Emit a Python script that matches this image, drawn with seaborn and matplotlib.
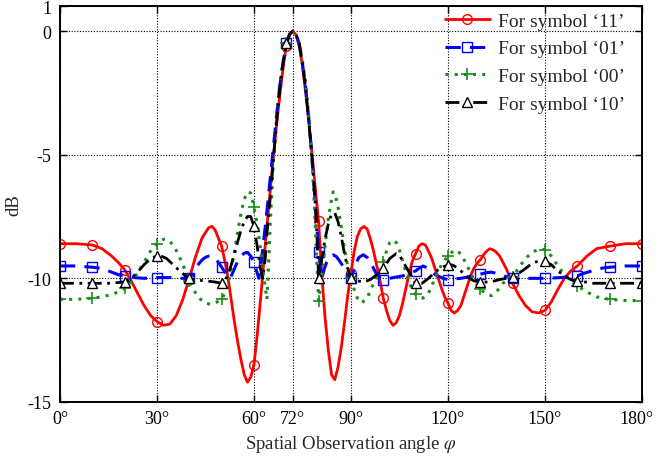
import numpy as np
import pandas as pd
import matplotlib
matplotlib.use("Agg")
import matplotlib.pyplot as plt
import matplotlib.transforms as mtransforms
import seaborn as sns

# values (angle in degrees, level in dB)
ang_11 = [0, 5, 10, 13, 16, 18, 20, 22, 24, 26, 28, 30, 32, 34, 36, 38, 40, 42, 44, 46, 47, 48, 50, 51, 52,
          53, 54, 55, 56, 57, 58, 59, 60, 61, 62, 63, 64, 65, 66, 67, 68, 69, 70, 71, 72, 73, 74, 75, 76,
          77, 78, 79, 80, 81, 82, 83, 84, 85, 86, 87, 88, 89, 90, 91, 92, 93, 94, 95, 96, 97, 98, 99, 100,
          101, 102, 103, 104, 105, 106, 107, 108, 109, 110, 111, 112, 113, 114, 115, 116, 117, 118, 119,
          120, 121, 122, 123, 124, 125, 126, 127, 128, 129, 130, 131, 132, 133, 134, 135, 136, 138, 140,
          142, 144, 146, 148, 150, 152, 154, 156, 158, 160, 163, 166, 170, 175, 180]
db_11 = [-8.6, -8.6, -8.65, -8.8, -9.1, -9.35, -9.65, -10.1, -10.6, -11.1, -11.5, -11.75, -11.9, -11.85,
         -11.5, -10.85, -10.0, -9.1, -8.35, -7.95, -7.9, -8.05, -8.7, -9.3, -10.0, -10.9, -11.8, -12.6,
         -13.3, -13.9, -14.2, -14.0, -13.5, -12.3, -10.9, -9.4, -7.9, -6.5, -5.1, -3.8, -2.6, -1.5, -0.6,
         -0.15, 0.0, -0.15, -0.6, -1.4, -2.5, -3.7, -5.0, -6.4, -7.7, -9.9, -11.6, -12.9, -13.9, -14.1,
         -13.6, -12.8, -11.8, -10.7, -9.8, -8.9, -8.3, -8.0, -7.9, -8.0, -8.4, -8.9, -9.5, -10.1, -10.8,
         -11.3, -11.7, -11.9, -11.8, -11.5, -11.0, -10.4, -9.8, -9.3, -9.0, -8.7, -8.6, -8.65, -8.9, -9.2,
         -9.6, -10.0, -10.4, -10.75, -11.0, -11.3, -11.4, -11.3, -11.1, -10.7, -10.3, -9.9, -9.6, -9.4,
         -9.25, -9.05, -8.9, -8.8, -8.85, -8.95, -9.1, -9.6, -10.2, -10.7, -11.1, -11.35, -11.4, -11.3,
         -10.95, -10.45, -10.0, -9.7, -9.5, -9.1, -8.8, -8.7, -8.6, -8.6]

ang_01 = [0, 5, 10, 13, 16, 18, 20, 23, 26, 30, 35, 38, 40, 41, 42, 43, 44, 45, 46, 47, 48, 49, 50, 51, 52,
          52.6, 53, 54, 55, 56, 57, 58, 59, 60, 60.8, 61.5, 62.2, 63, 64, 65, 66, 67, 68, 69, 70, 71, 72,
          73, 74, 75, 76, 77, 78, 79, 80, 81, 81.8, 82.5, 83.5, 84.5, 85.5, 86.5, 87.5, 88.5, 89.3, 90,
          90.8, 91.5, 92.5, 93.8, 95, 96, 97, 98, 99, 100, 102, 104, 106, 108, 110, 111, 112.3, 114, 116,
          118.5, 120, 122, 124, 126, 128, 130, 132, 133.5, 135, 137, 140, 145, 150, 155, 158, 160, 162,
          165, 168, 170, 175, 180]
db_01 = [-9.5, -9.5, -9.55, -9.6, -9.75, -9.85, -9.9, -9.97, -10.0, -9.97, -9.97, -10.0, -10.0, -9.85,
         -9.6, -9.4, -9.25, -9.15, -9.1, -9.1, -9.2, -9.35, -9.55, -9.75, -9.95, -10.0, -9.9, -9.6, -9.3,
         -9.1, -8.98, -8.95, -9.1, -9.35, -9.7, -10.0, -9.4, -8.5, -7.3, -6.0, -4.7, -3.4, -2.2, -1.3,
         -0.5, -0.13, 0.0, -0.13, -0.5, -1.3, -2.3, -3.6, -5.2, -7.0, -8.95, -10.0, -9.6, -9.35, -9.12,
         -9.05, -9.12, -9.3, -9.5, -9.75, -9.95, -10.0, -9.7, -9.4, -9.15, -9.05, -9.15, -9.35, -9.6,
         -9.85, -10.0, -10.05, -10.0, -9.95, -9.9, -9.8, -9.7, -9.6, -9.5, -9.6, -9.85, -10.0, -10.05,
         -10.02, -10.0, -9.95, -9.88, -9.83, -9.77, -9.75, -9.8, -9.9, -9.98, -10.0, -10.0, -9.97, -9.93,
         -9.9, -9.8, -9.68, -9.58, -9.55, -9.5, -9.5]

ang_00 = [0, 5, 10, 13, 16, 18, 20, 22, 24, 26, 28, 30, 31.5, 32.5, 34, 35.5, 37, 38.5, 40, 41.5, 43, 45,
          46.5, 48, 50, 51, 52, 53, 54, 55, 56, 57, 58, 59, 60, 61, 62, 63, 64, 64.5, 65, 66, 67, 68, 69,
          70, 71, 72, 73, 74, 75, 76, 77, 78, 79, 79.5, 80, 81, 82, 83, 84, 84.5, 85, 86, 87, 88, 89, 90,
          91, 92, 93.3, 95, 97, 99, 100, 101, 102, 103, 104, 105, 106, 107, 108, 109, 110, 111, 112.3, 114,
          116, 118, 120, 122, 124, 126, 128, 130, 132, 133.5, 135, 137, 140, 142, 144, 146, 148.5, 150,
          152, 154, 156, 158, 160, 163, 166, 170, 175, 180]
db_00 = [-10.85, -10.85, -10.8, -10.75, -10.65, -10.55, -10.4, -10.15, -9.8, -9.35, -8.9, -8.6, -8.45,
         -8.4, -8.5, -8.75, -9.15, -9.6, -10.1, -10.5, -10.8, -11.0, -11.05, -11.0, -10.85, -10.6, -10.2,
         -9.6, -8.9, -8.1, -7.35, -6.8, -6.5, -6.55, -7.1, -7.8, -8.8, -9.9, -10.85, -9.5, -7.9, -5.3,
         -3.5, -2.1, -1.2, -0.5, -0.13, 0.0, -0.13, -0.5, -1.2, -2.1, -3.5, -5.3, -7.9, -9.5, -10.9, -9.9,
         -8.7, -7.6, -6.8, -6.5, -6.55, -7.1, -7.9, -8.8, -9.5, -10.0, -10.45, -10.8, -11.0, -10.8, -10.2,
         -9.7, -9.35, -8.9, -8.55, -8.45, -8.55, -8.85, -9.3, -9.75, -10.15, -10.45, -10.65, -10.75,
         -10.8, -10.6, -10.0, -9.45, -9.1, -8.85, -9.0, -9.5, -10.05, -10.45, -10.65, -10.7, -10.55,
         -10.2, -9.95, -9.55, -9.2, -8.95, -8.8, -8.85, -9.1, -9.5, -9.85, -10.1, -10.3, -10.55, -10.75,
         -10.85, -10.9, -10.9]

ang_10 = [0, 5, 10, 15, 20, 22, 24, 26, 28, 30, 31, 33, 35, 37, 39, 40, 42, 45, 48, 50, 51, 52, 53, 54, 55,
          56, 57, 58, 59, 60, 61, 62, 62.7, 63.5, 64, 65, 66, 67, 68, 69, 70, 71, 72, 73, 74, 75, 76, 77,
          78, 79, 79.5, 80, 81, 82, 83, 84, 85, 86, 87, 88, 89, 90, 92, 94, 96, 98, 100, 102, 104, 105,
          106, 108, 110, 112, 114, 116, 118, 120, 121, 122, 124, 126, 128, 130, 133, 136, 140, 143, 146,
          148, 150, 152, 154, 156, 158, 160, 165, 170, 175, 180]
db_10 = [-10.2, -10.2, -10.2, -10.2, -10.15, -10.0, -9.75, -9.45, -9.2, -9.1, -9.08, -9.2, -9.45, -9.7,
         -9.92, -10.0, -10.07, -10.1, -10.15, -10.2, -10.1, -9.85, -9.45, -9.0, -8.5, -8.05, -7.7, -7.5,
         -7.5, -7.9, -8.7, -9.6, -10.0, -9.2, -8.2, -6.8, -5.2, -3.7, -2.3, -1.3, -0.5, -0.13, 0.0, -0.13,
         -0.5, -1.3, -2.3, -3.7, -5.2, -7.0, -8.3, -10.0, -9.2, -8.4, -7.8, -7.4, -7.35, -7.7, -8.3, -9.0,
         -9.6, -10.0, -10.1, -10.15, -10.05, -9.85, -9.6, -9.2, -9.0, -9.05, -9.3, -9.75, -10.2, -10.2,
         -10.0, -9.75, -9.55, -9.47, -9.45, -9.5, -9.7, -9.95, -10.1, -10.15, -10.15, -10.05, -9.95,
         -9.7, -9.4, -9.3, -9.3, -9.45, -9.7, -9.9, -10.05, -10.1, -10.2, -10.2, -10.2, -10.2]

labels = ["For symbol \u201811\u2019", "For symbol \u201801\u2019",
          "For symbol \u201800\u2019", "For symbol \u201810\u2019"]
xticks = [0, 30, 60, 72, 90, 120, 150, 180]
yticks = [1, 0, -5, -10, -15]

sns.set_theme(style="ticks")
plt.rcParams['font.family'] = ['Liberation Serif', 'DejaVu Serif']
plt.rcParams['mathtext.fontset'] = 'stix'

fig, ax = plt.subplots(figsize=(6.57, 4.60), dpi=100)
fig.subplots_adjust(left=0.0913, right=0.977, bottom=0.124, top=0.984)

series = [
    (ang_11, db_11, dict(color='#ff0000', linestyle='-', lw=2.0, marker='o', ms=7,
                         mfc='none', mec='#ff0000', mew=1.0)),
    (ang_01, db_01, dict(color='#0000ff', linestyle=(0, (5, 3)), lw=2.2, marker='s', ms=6.5,
                         mfc='none', mec='#0000ff', mew=1.0)),
    (ang_00, db_00, dict(color='#1a8c1a', linestyle=(0, (1, 2)), lw=2.2, marker='+', ms=9,
                         mec='#1a8c1a', mew=1.2)),
    (ang_10, db_10, dict(color='black', linestyle=(0, (5, 2, 1, 2)), lw=2.0, marker='^', ms=7,
                         mfc='white', mec='black', mew=1.0)),
]

for (x, y, kw), lab in zip(series, labels):
    df = pd.DataFrame({'angle': x, 'dB': y})
    marks = [i for i, a in enumerate(x) if a % 10 == 0]
    sns.lineplot(data=df, x='angle', y='dB', ax=ax, label=lab, errorbar=None,
                 markevery=marks, **kw)

ax.set_xlim(0, 180)
ax.set_ylim(-15, 1)
ax.set_xticks(xticks)
ax.set_xticklabels([f"{t}\u00b0" for t in xticks])
ax.set_yticks(yticks)
ax.set_yticklabels([str(t) for t in yticks])
ax.grid(True, color='black', linestyle=(0, (1, 1.5)), lw=0.8)
ax.tick_params(direction='in', top=True, right=True, length=5, width=1,
               labelsize=13, colors='black', pad=6)
for s in ax.spines.values():
    s.set_color('black')
    s.set_linewidth(1.4)

# keep the last x label inside the figure
last = ax.get_xticklabels()[-1]
last.set_transform(last.get_transform() +
                   mtransforms.ScaledTranslation(-5 / 100, 0, fig.dpi_scale_trans))

ax.set_xlabel("Spatial Observation angle $\\varphi$", fontsize=13.5, labelpad=4)
ax.set_ylabel("dB", fontsize=13.5, labelpad=4)

ax.legend(loc='upper right', frameon=False, fontsize=14, handlelength=2.3,
          handletextpad=0.45, labelspacing=0.52, borderaxespad=0.0, numpoints=1,
          bbox_to_anchor=(0.985, 1.005))

fig.savefig("out.png", dpi=100)
